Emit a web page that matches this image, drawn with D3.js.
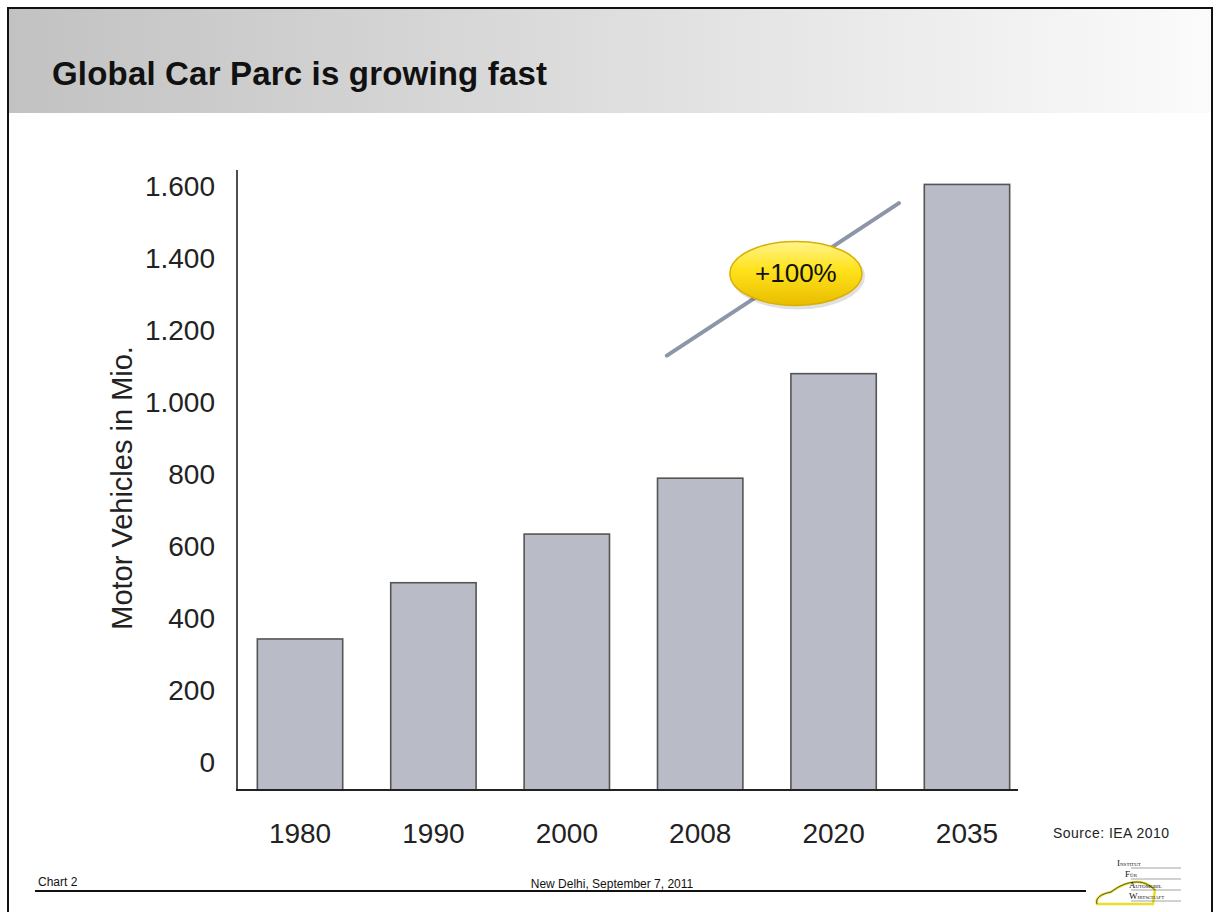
<!DOCTYPE html>
<html>
<head>
<meta charset="utf-8">
<script src="https://cdn.jsdelivr.net/npm/d3@7/dist/d3.min.js"></script>
<style>
  html, body { margin: 0; padding: 0; background: #fff; }
  svg { display: block; font-family: "Liberation Sans", Arial, sans-serif; }
</style>
</head>
<body>
<svg id="chart" width="1219" height="912"></svg>
<script>
// ---- data ----
const years = ["1980", "1990", "2000", "2008", "2020", "2035"];
const vehicles = [344, 500, 635, 790, 1080, 1605];
const yTicks = [0, 200, 400, 600, 800, 1000, 1200, 1400, 1600];
const title = "Global Car Parc is growing fast";
const yTitle = "Motor Vehicles in Mio.";
const growthLabel = "+100%";
const sourceText = "Source: IEA 2010";
const footerLeft = "Chart 2";
const footerCenter = "New Delhi, September 7, 2011";
// trend annotation: [category, fraction of step from band start, value]
const trendStart = ["2008", 0.07, 1130];
const trendEnd = ["2020", 0.81, 1553];
const logoLines = [["I", "NSTITUT"], ["F", "ÜR"], ["A", "UTOMOBIL"], ["W", "IRTSCHAFT"]];

const svg = d3.select("#chart");

// ---- slide frame and header ----
const defs = svg.append("defs");
const hg = defs.append("linearGradient").attr("id", "hdr").attr("x1", "0").attr("x2", "1").attr("y1", "0").attr("y2", "0");
hg.append("stop").attr("offset", "0").attr("stop-color", "#c2c2c2");
hg.append("stop").attr("offset", "0.5").attr("stop-color", "#dedede");
hg.append("stop").attr("offset", "1").attr("stop-color", "#fbfbfb");

svg.append("rect").attr("x", 9).attr("y", 9).attr("width", 1203).attr("height", 104).attr("fill", "url(#hdr)");
svg.append("path").attr("d", "M8,912 V8 H1212 V912").attr("fill", "none").attr("stroke", "#111").attr("stroke-width", 2);

svg.append("text").attr("x", 52).attr("y", 85)
  .attr("font-size", 33).attr("font-weight", "bold").attr("fill", "#111")
  .attr("textLength", 495).text(title);

// ---- scales ----
const x = d3.scaleBand().domain(years).range([244, 1023]).paddingInner(0.36).paddingOuter(0.1);
const y = d3.scaleLinear().domain([-75, 1645]).range([790, 170]);
const fmt = d3.formatLocale({ decimal: ",", thousands: ".", grouping: [3], currency: ["", "€"] }).format(",");

// ---- bars ----
svg.append("g").selectAll("rect").data(years).join("rect")
  .attr("x", d => x(d))
  .attr("y", (d, i) => y(vehicles[i]))
  .attr("width", x.bandwidth())
  .attr("height", (d, i) => y(-75) - y(vehicles[i]))
  .attr("fill", "#b9bcc7")
  .attr("stroke", "#555")
  .attr("stroke-width", 1.6);

// ---- axes ----
const yAxis = svg.append("g").attr("transform", "translate(237,0)")
  .call(d3.axisLeft(y).tickValues(yTicks).tickSize(0).tickPadding(22).tickFormat(fmt));
yAxis.select(".domain").remove();
yAxis.selectAll("text").attr("font-size", 28).attr("fill", "#222").attr("font-family", "Liberation Sans, Arial, sans-serif");

const xAxis = svg.append("g").attr("transform", "translate(0,790)")
  .call(d3.axisBottom(x).tickSize(0).tickPadding(33));
xAxis.select(".domain").remove();
xAxis.selectAll("text").attr("font-size", 28).attr("fill", "#222").attr("font-family", "Liberation Sans, Arial, sans-serif");

svg.append("line").attr("x1", 237).attr("x2", 237).attr("y1", y(1645)).attr("y2", y(-75))
  .attr("stroke", "#222").attr("stroke-width", 1.6);
svg.append("line").attr("x1", 236).attr("x2", 1018).attr("y1", y(-75)).attr("y2", y(-75))
  .attr("stroke", "#222").attr("stroke-width", 1.8);

svg.append("text")
  .attr("transform", `translate(132,${y(763)}) rotate(-90)`)
  .attr("text-anchor", "middle").attr("font-size", 29).attr("fill", "#222")
  .text(yTitle);

// ---- +100% annotation ----
const px = a => x(a[0]) + a[1] * x.step();
const x1 = px(trendStart), y1 = y(trendStart[2]);
const x2 = px(trendEnd), y2 = y(trendEnd[2]);
svg.append("line").attr("x1", x1).attr("y1", y1).attr("x2", x2).attr("y2", y2)
  .attr("stroke", "#8d96a8").attr("stroke-width", 4).attr("stroke-linecap", "round");

const eg = defs.append("linearGradient").attr("id", "ell").attr("x1", "0").attr("x2", "0").attr("y1", "0").attr("y2", "1");
eg.append("stop").attr("offset", "0").attr("stop-color", "#fff48a");
eg.append("stop").attr("offset", "0.45").attr("stop-color", "#ffe21a");
eg.append("stop").attr("offset", "1").attr("stop-color", "#e9bd00");
const cx = (x1 + x2) / 2 + 13, cy = (y1 + y2) / 2 - 6;
svg.append("ellipse").attr("cx", cx + 2).attr("cy", cy + 3).attr("rx", 67).attr("ry", 33)
  .attr("fill", "#000").attr("opacity", 0.12);
svg.append("ellipse").attr("cx", cx).attr("cy", cy).attr("rx", 66).attr("ry", 32)
  .attr("fill", "url(#ell)").attr("stroke", "#d9b000").attr("stroke-width", 1.5);
svg.append("text").attr("x", cx).attr("y", cy + 9).attr("text-anchor", "middle")
  .attr("font-size", 26).attr("fill", "#111").text(growthLabel);

// ---- source & footer ----
svg.append("text").attr("x", 1053).attr("y", 838).attr("font-size", 14).attr("fill", "#222")
  .attr("textLength", 116).text(sourceText);

svg.append("text").attr("x", 38).attr("y", 886).attr("font-size", 12).attr("fill", "#111").text(footerLeft);
svg.append("text").attr("x", 612).attr("y", 888).attr("text-anchor", "middle").attr("font-size", 12).attr("fill", "#111").text(footerCenter);
svg.append("line").attr("x1", 35).attr("x2", 1086).attr("y1", 891).attr("y2", 891).attr("stroke", "#111").attr("stroke-width", 2);

// ---- logo ----
const logo = svg.append("g").attr("transform", "translate(1093,855)");
logo.append("path")
  .attr("d", "M4,49 C2,43 8,39 18,37 C26,31 34,27 44,27 C52,27 58,31 62,35 L60,49 Z")
  .attr("fill", "none").attr("stroke", "#e8df2a").attr("stroke-width", 2.5);
logo.append("path")
  .attr("d", "M4,49 C2,43 8,39 18,37 C26,31 34,27 44,27 C52,27 58,31 62,35")
  .attr("fill", "none").attr("stroke", "#333").attr("stroke-width", 0.8);
const lx = [24, 32, 36, 36];
const ly = [11, 22, 33, 44];
logoLines.forEach((d, i) => {
  const t = logo.append("text").attr("x", lx[i]).attr("y", ly[i]).attr("fill", "#111")
    .attr("font-family", "Liberation Serif, serif");
  t.append("tspan").attr("font-size", 9).text(d[0]);
  t.append("tspan").attr("font-size", 5).text(d[1]);
});
[13, 24, 35, 46].forEach(yy => {
  logo.append("line").attr("x1", 38).attr("x2", 88).attr("y1", yy).attr("y2", yy)
    .attr("stroke", "#666").attr("stroke-width", 0.6);
});
</script>
</body>
</html>
